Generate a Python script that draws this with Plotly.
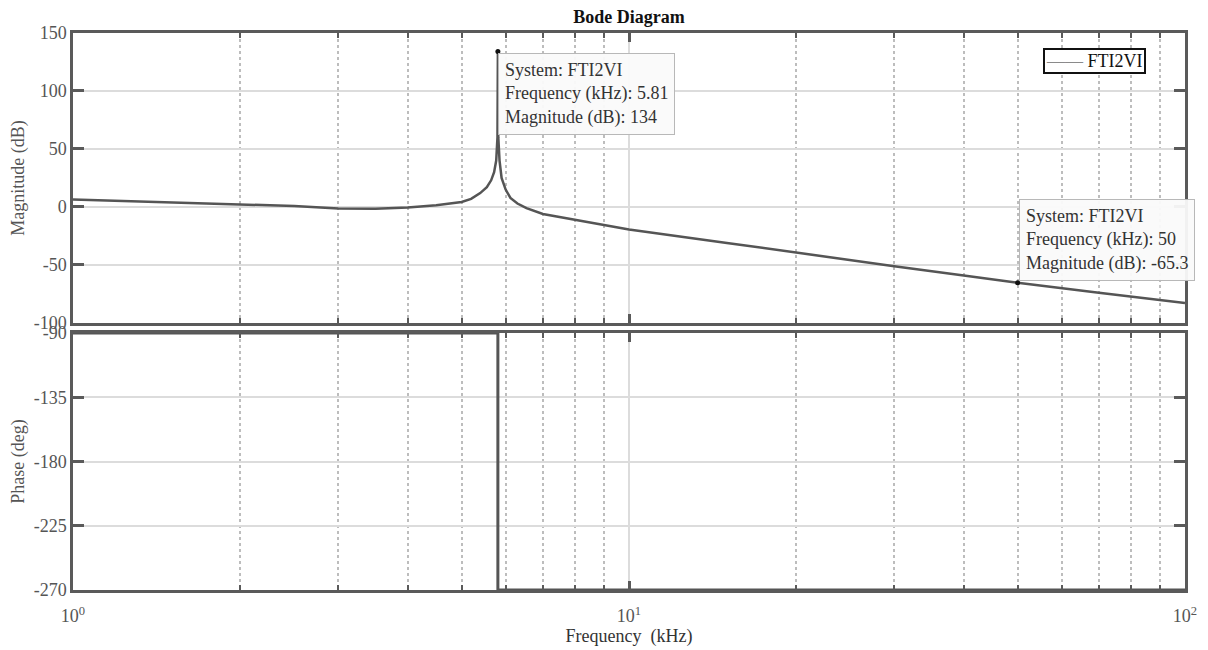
import math
import plotly.graph_objects as go
from plotly.subplots import make_subplots

# ---- data ----
freq_khz = [1, 1.5, 2, 2.5, 3, 3.5, 4, 4.5, 5, 5.2, 5.4, 5.55, 5.65, 5.72, 5.77,
            5.80, 5.81, 5.82, 5.85, 5.9, 6.0, 6.12, 6.3, 6.54, 7, 8.17, 10, 15,
            20, 30, 40, 50, 70, 100]
mag_db = [6.5, 4.2, 2.5, 0.8, -1.2, -1.6, -0.4, 1.4, 4.3, 7, 12, 17, 23, 30, 40,
          60, 134, 60, 40, 25, 15, 7.8, 3, -1, -6, -12, -19.5, -31,
          -39.5, -51, -59, -65.3, -74, -82.8]

phase_freq_khz = [1, 5.81, 5.81, 100]
phase_deg = [-90, -90, -270, -270]

tip_freq = [5.81, 50]
tip_mag = [134, -65.3]
tip_labels = ["System: FTI2VI<br>Frequency (kHz): 5.81<br>Magnitude (dB): 134",
              "System: FTI2VI<br>Frequency (kHz): 50<br>Magnitude (dB): -65.3"]

series_name = "FTI2VI"
x_major = [1, 10, 100]
x_major_text = ["10<sup>0</sup>", "10<sup>1</sup>", "10<sup>2</sup>"]
x_minor = [2, 3, 4, 5, 6, 7, 8, 9, 20, 30, 40, 50, 60, 70, 80, 90]
mag_ticks = [-100, -50, 0, 50, 100, 150]
mag_tick_text = ["-100", "-50", "0", "50", "100", "150"]
phase_ticks = [-270, -225, -180, -135, -90]
phase_tick_text = ["-270", "-225", "-180", "-135", "-90"]

FONT = "Liberation Serif, Times New Roman, serif"
AX = "#5a5a5a"
LINE = "#555555"

fig = make_subplots(rows=2, cols=1, shared_xaxes=False, vertical_spacing=0.02)

fig.add_trace(go.Scatter(x=freq_khz, y=mag_db, mode="lines", name=series_name,
                         line=dict(color=LINE, width=2.5), showlegend=False),
              row=1, col=1)
fig.add_trace(go.Scatter(x=tip_freq, y=tip_mag, mode="markers", showlegend=False,
                         marker=dict(color="#111111", size=5), cliponaxis=False),
              row=1, col=1)
fig.add_trace(go.Scatter(x=phase_freq_khz, y=phase_deg, mode="lines", showlegend=False,
                         name=series_name, line=dict(color=LINE, width=3)),
              row=2, col=1)

common_x = dict(type="log", range=[0, 2], tickmode="array", tickvals=x_major,
                showline=True, linecolor=AX, linewidth=2.5, mirror="ticks",
                ticks="inside", ticklen=9, tickwidth=2.5, tickcolor=AX,
                showgrid=True, gridcolor="#dcdcdc", gridwidth=1.5,
                zeroline=False, automargin=False,
                minor=dict(tickmode="array", tickvals=x_minor, ticks="inside",
                           ticklen=5, tickwidth=2, tickcolor=AX, showgrid=True,
                           gridcolor="#bdbdbd", griddash="dot", gridwidth=1.5),
                tickfont=dict(family=FONT, size=18, color="#555555"))

fig.update_xaxes(**common_x, showticklabels=False, row=1, col=1)
fig.update_xaxes(**common_x, ticktext=x_major_text, showticklabels=True,
                 ticklabelstandoff=8,
                 title=dict(text="Frequency  (kHz)", standoff=2,
                            font=dict(family=FONT, size=18, color="#333333")),
                 row=2, col=1)

common_y = dict(showline=True, linecolor=AX, linewidth=2.5, mirror="ticks",
                ticks="inside", ticklen=11, tickwidth=2.5, tickcolor=AX,
                showgrid=True, gridcolor="#dcdcdc", gridwidth=1.5, zeroline=False,
                automargin=False, tickmode="array",
                tickfont=dict(family=FONT, size=18, color="#555555"))
fig.update_yaxes(**common_y, range=[-100, 150], tickvals=mag_ticks,
                 ticktext=mag_tick_text, domain=[0.4794, 1.0],
                 title=dict(text="Magnitude (dB)",
                            font=dict(family=FONT, size=18, color="#555555")),
                 row=1, col=1)
fig.update_yaxes(**common_y, range=[-270, -90], tickvals=phase_ticks,
                 ticktext=phase_tick_text, domain=[0.0, 0.4614],
                 title=dict(text="Phase (deg)",
                            font=dict(family=FONT, size=18, color="#555555")),
                 row=2, col=1)

# data tips
fig.add_annotation(x=math.log10(tip_freq[0]), y=tip_mag[0], xref="x", yref="y",
                   text=tip_labels[0], showarrow=False, align="left",
                   xanchor="left", yanchor="top", yshift=-1,
                   font=dict(family=FONT, size=18, color="#333333"),
                   bgcolor="rgba(250,250,250,0.95)", bordercolor="#b8b8b8",
                   borderwidth=1, borderpad=6)
fig.add_annotation(x=math.log10(tip_freq[1]), y=tip_mag[1], xref="x", yref="y",
                   text=tip_labels[1], showarrow=False, align="left",
                   xanchor="left", yanchor="bottom", yshift=2, xshift=1,
                   font=dict(family=FONT, size=18, color="#333333"),
                   bgcolor="rgba(250,250,250,0.95)", bordercolor="#b8b8b8",
                   borderwidth=1, borderpad=6)

# legend box (line sample + series name)
fig.add_annotation(x=0.8723, y=0.973, xref="paper", yref="paper",
                   xanchor="left", yanchor="top", showarrow=False, align="left",
                   text="<span style='color:#8a8a8a'>——</span> " + series_name,
                   font=dict(family=FONT, size=18, color="#111111"),
                   bgcolor="white", bordercolor="#111111", borderwidth=2,
                   borderpad=1)

# page body has an 8px margin: shift the figure so the plot lands where the reference has it
fig.update_layout(
    width=1200, height=642,
    margin=dict(l=65, r=23, t=25, b=60),
    paper_bgcolor="white", plot_bgcolor="white",
    title=dict(text="<b>Bode Diagram</b>", x=0.5, xref="paper",
               y=1 - 9 / 642, yref="container", yanchor="middle",
               font=dict(family=FONT, size=18, color="#111111")),
    font=dict(family=FONT),
    showlegend=False,
)

fig.write_html("out.html")
